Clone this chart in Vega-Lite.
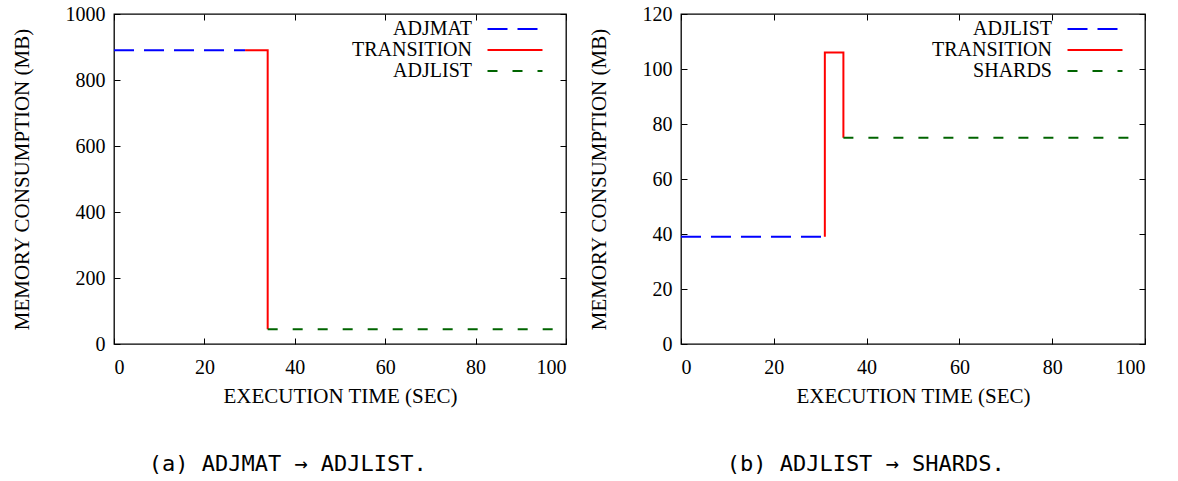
{
  "$schema": "https://vega.github.io/schema/vega-lite/v6.json",
  "padding": {"left": 10, "top": 3, "right": 0, "bottom": 0},
  "background": "white",
  "spacing": 19,
  "config": {
    "font": "Liberation Serif",
    "view": {"stroke": "#000", "strokeWidth": 1.3},
    "axis": {
      "labelFont": "Liberation Serif",
      "labelFontSize": 20,
      "labelColor": "#000",
      "titleFont": "Liberation Serif",
      "titleFontSize": 21,
      "titleFontWeight": "normal",
      "titleColor": "#000",
      "grid": false,
      "domain": false,
      "tickColor": "#000",
      "tickSize": -6,
      "tickWidth": 1,
      "labelPadding": 19
    },
    "axisY": {"labelPadding": 15},
    "legend": {
      "labelFont": "Liberation Serif",
      "labelFontSize": 20,
      "labelColor": "#000",
      "symbolType": "M-4,0H4",
      "symbolSize": 189,
      "symbolStrokeWidth": 2,
      "labelAlign": "right",
      "labelOffset": -53,
      "rowPadding": 1,
      "padding": 0,
      "orient": "none"
    },
    "title": {"font": "DejaVu Sans Mono", "fontSize": 22, "fontWeight": "normal", "color": "#000"}
  },
  "hconcat": [
    {
      "width": 452,
      "height": 330,
      "title": {"text": "(a) ADJMAT → ADJLIST.", "orient": "bottom", "frame": "bounds", "anchor": "middle", "offset": 48, "dx": -1},
      "data": {"values": [
        {"series": "ADJMAT", "i": 0, "t": 0, "mem": 890},
        {"series": "ADJMAT", "i": 1, "t": 29, "mem": 890},
        {"series": "TRANSITION", "i": 0, "t": 29, "mem": 890},
        {"series": "TRANSITION", "i": 1, "t": 34, "mem": 890},
        {"series": "TRANSITION", "i": 2, "t": 34, "mem": 45},
        {"series": "ADJLIST", "i": 0, "t": 34, "mem": 45},
        {"series": "ADJLIST", "i": 1, "t": 97.6, "mem": 45}
      ]},
      "layer": [
        {
          "mark": {"type": "line", "strokeWidth": 2, "clip": true},
          "encoding": {
            "x": {"field": "t", "type": "quantitative", "scale": {"domain": [0, 100], "nice": false}, "axis": {"values": [0, 20, 40, 60, 80, 100], "title": "EXECUTION TIME (SEC)", "titlePadding": 8}},
            "y": {"field": "mem", "type": "quantitative", "scale": {"domain": [0, 1000], "nice": false}, "axis": {"values": [0, 200, 400, 600, 800, 1000], "format": "d", "title": "MEMORY CONSUMPTION (MB)", "titlePadding": 33}},
            "color": {"field": "series", "type": "nominal", "scale": {"domain": ["ADJMAT", "TRANSITION", "ADJLIST"], "range": ["#0000ff", "#ff0000", "#006400"]}, "legend": {"title": null, "legendX": 391, "legendY": 5}},
            "strokeDash": {"field": "series", "type": "nominal", "scale": {"domain": ["ADJMAT", "TRANSITION", "ADJLIST"], "range": [[20, 10], [1, 0], [10, 15]]}, "legend": {"title": null, "legendX": 391, "legendY": 5}},
            "order": {"field": "i", "type": "quantitative"}
          }
        },
        {
          "mark": {"type": "point", "opacity": 0},
          "encoding": {
            "x": {"field": "t", "type": "quantitative", "scale": {"domain": [0, 100], "nice": false}, "axis": {"orient": "top", "values": [0, 20, 40, 60, 80, 100], "labels": false, "title": null}},
            "y": {"field": "mem", "type": "quantitative", "scale": {"domain": [0, 1000], "nice": false}, "axis": {"orient": "right", "values": [0, 200, 400, 600, 800, 1000], "labels": false, "title": null}}
          }
        }
      ],
      "resolve": {"axis": {"x": "independent", "y": "independent"}}
    },
    {
      "width": 464,
      "height": 330,
      "title": {"text": "(b) ADJLIST → SHARDS.", "orient": "bottom", "frame": "bounds", "anchor": "middle", "offset": 48, "dx": -1},
      "data": {"values": [
        {"series": "ADJLIST", "i": 0, "t": 0, "mem": 39},
        {"series": "ADJLIST", "i": 1, "t": 31, "mem": 39},
        {"series": "TRANSITION", "i": 0, "t": 31, "mem": 39},
        {"series": "TRANSITION", "i": 1, "t": 31, "mem": 106},
        {"series": "TRANSITION", "i": 2, "t": 35, "mem": 106},
        {"series": "TRANSITION", "i": 3, "t": 35, "mem": 75},
        {"series": "SHARDS", "i": 0, "t": 35, "mem": 75},
        {"series": "SHARDS", "i": 1, "t": 97, "mem": 75}
      ]},
      "layer": [
        {
          "mark": {"type": "line", "strokeWidth": 2, "clip": true},
          "encoding": {
            "x": {"field": "t", "type": "quantitative", "scale": {"domain": [0, 100], "nice": false}, "axis": {"values": [0, 20, 40, 60, 80, 100], "title": "EXECUTION TIME (SEC)", "titlePadding": 8}},
            "y": {"field": "mem", "type": "quantitative", "scale": {"domain": [0, 120], "nice": false}, "axis": {"values": [0, 20, 40, 60, 80, 100, 120], "title": "MEMORY CONSUMPTION (MB)", "titlePadding": 33}},
            "color": {"field": "series", "type": "nominal", "scale": {"domain": ["ADJLIST", "TRANSITION", "SHARDS"], "range": ["#0000ff", "#ff0000", "#006400"]}, "legend": {"title": null, "legendX": 404, "legendY": 5}},
            "strokeDash": {"field": "series", "type": "nominal", "scale": {"domain": ["ADJLIST", "TRANSITION", "SHARDS"], "range": [[20, 10], [1, 0], [10, 15]]}, "legend": {"title": null, "legendX": 404, "legendY": 5}},
            "order": {"field": "i", "type": "quantitative"}
          }
        },
        {
          "mark": {"type": "point", "opacity": 0},
          "encoding": {
            "x": {"field": "t", "type": "quantitative", "scale": {"domain": [0, 100], "nice": false}, "axis": {"orient": "top", "values": [0, 20, 40, 60, 80, 100], "labels": false, "title": null}},
            "y": {"field": "mem", "type": "quantitative", "scale": {"domain": [0, 120], "nice": false}, "axis": {"orient": "right", "values": [0, 20, 40, 60, 80, 100, 120], "labels": false, "title": null}}
          }
        }
      ],
      "resolve": {"axis": {"x": "independent", "y": "independent"}}
    }
  ],
  "resolve": {"scale": {"color": "independent", "strokeDash": "independent"}}
}
